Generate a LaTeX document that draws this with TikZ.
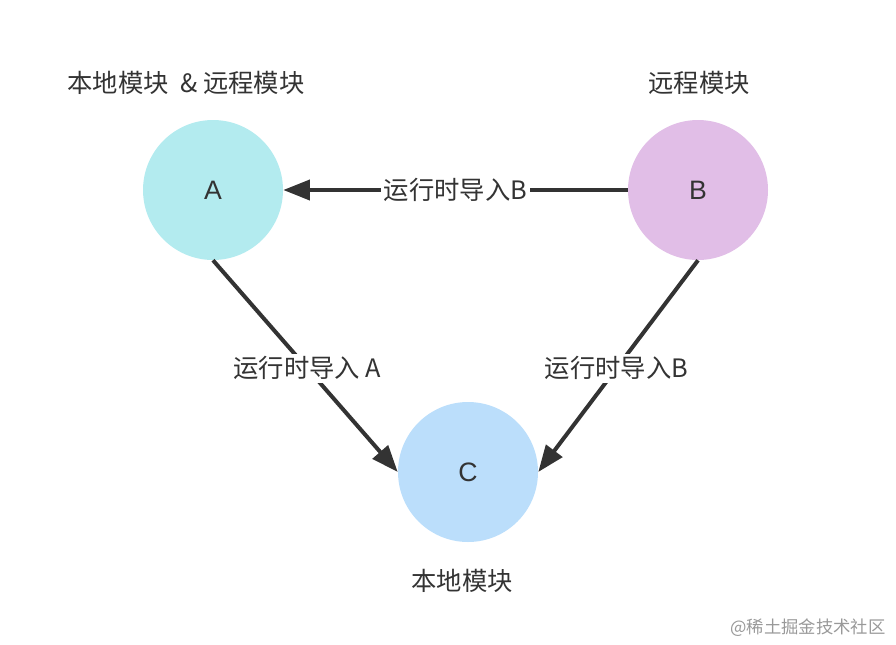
\documentclass[tikz,border=0pt]{standalone}
\usepackage{fontspec}
\setmainfont{Noto Sans CJK SC}
\newfontfamily\latinfont{Liberation Sans}
\usetikzlibrary{arrows.meta}
\definecolor{ink}{HTML}{333333}
\definecolor{ca}{HTML}{B3EBEF}
\definecolor{cb}{HTML}{E1BEE7}
\definecolor{cc}{HTML}{BBDEFB}
\begin{document}
\begin{tikzpicture}[x=0.75pt,y=-0.75pt,
  mod/.style={circle,minimum size=105pt,inner sep=0pt,text=ink,font=\latinfont\fontsize{20}{24}\selectfont},
  lbl/.style={text=ink,font=\fontsize{19}{22}\selectfont,inner sep=1pt},
  conn/.style={draw=ink,line width=3pt,-{Triangle[length=20pt,width=15pt]}},
  elab/.style={lbl,fill=white,inner sep=2pt}]
\useasboundingbox (0,0) rectangle (896,644);
\node[mod,fill=ca] (A) at (213,190) {A};
\node[mod,fill=cb] (B) at (698,190) {B};
\node[mod,fill=cc] (C) at (468,472) {C};
\node[lbl] (tA) at (186,83) {本地模块\ \ \&\ 远程模块};
\node[lbl] (tB) at (699,83) {远程模块};
\node[lbl] (tC) at (462,581) {本地模块};
\draw[conn] (B.west) -- node[elab] (eBA) {运行时导入B} (A.east);
\draw[conn] (A.south) -- node[elab,pos=0.51] (eAC) {运行时导入 A} (C.west);
\draw[conn] (B.south) -- node[elab,pos=0.51] (eBC) {运行时导入B} (C.east);
\node[text=black!40,font=\fontsize{13}{15}\selectfont] (wm) at (808,628) {@稀土掘金技术社区};
\end{tikzpicture}
\end{document}
